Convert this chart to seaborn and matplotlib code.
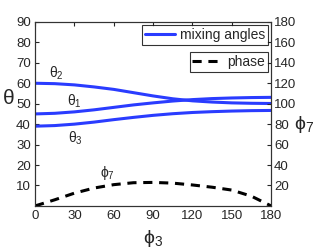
import numpy as np
import pandas as pd
import seaborn as sns
import matplotlib.pyplot as plt
from matplotlib.lines import Line2D

phi3 = [0, 15, 30, 45, 60, 75, 90, 105, 120, 135, 150, 165, 180]
theta1 = [45.0, 45.3, 46.0, 47.0, 48.2, 49.4, 50.4, 51.3, 52.0, 52.5, 52.8, 53.0, 53.1]
theta2 = [60.0, 59.8, 59.2, 58.2, 57.0, 55.4, 53.8, 52.4, 51.4, 50.8, 50.4, 50.2, 50.1]
theta3 = [39.0, 39.3, 40.0, 41.0, 42.2, 43.3, 44.3, 45.1, 45.7, 46.1, 46.4, 46.6, 46.7]
phi7 = [0, 6, 12.5, 17.5, 20.8, 22.7, 23, 22.3, 20.5, 18.3, 15.5, 9.5, 0]

df = pd.DataFrame({
    "phi3": phi3 * 3,
    "theta": theta1 + theta2 + theta3,
    "angle": ["t1"] * 13 + ["t2"] * 13 + ["t3"] * 13,
})
df_ph = pd.DataFrame({"phi3": phi3, "phi7": phi7})

sns.set_style("white")
plt.rcParams["font.family"] = ["Liberation Sans", "DejaVu Sans"]
plt.rcParams["mathtext.fontset"] = "custom"
plt.rcParams["mathtext.rm"] = "Liberation Sans"

fig = plt.figure(figsize=(3.16, 2.49), dpi=100)
ax = fig.add_axes([0.111, 0.173, 0.747, 0.739])
blue = "#2a3cff"
sns.lineplot(data=df, x="phi3", y="theta", units="angle", estimator=None,
             color=blue, lw=2.2, ax=ax, legend=False)
ax.set_xlim(0, 180)
ax.set_ylim(0, 90)
ax.set_xticks(range(0, 181, 30))
ax.set_yticks(range(10, 91, 10))
ax.tick_params(direction="in", length=3, labelsize=9.5, top=True, pad=3)
ax.set_xlabel(r"$\mathregular{\phi_3}$", fontsize=14, va="center", ha="center")
ax.xaxis.set_label_coords(0.5, -0.175)
ax.set_ylabel(r"$\mathregular{\theta}$", fontsize=15, rotation=0, va="center", ha="center")
ax.yaxis.set_label_coords(-0.112, 0.585)

ax2 = ax.twinx()
sns.lineplot(data=df_ph, x="phi3", y="phi7", color="black", lw=2.2,
             linestyle=(0, (3, 2.2)), ax=ax2)
ax2.set_ylim(0, 180)
ax2.set_yticks(range(20, 181, 20))
ax2.tick_params(direction="in", length=3, labelsize=9.5, pad=2)
ax2.set_ylabel(r"$\mathregular{\phi_7}$", fontsize=14, rotation=0, va="center", ha="center")
ax2.yaxis.set_label_coords(1.14, 0.44)

for a in (ax, ax2):
    for s in a.spines.values():
        s.set_color("#333333")
        s.set_linewidth(0.8)

ax.text(16, 65, r"$\mathregular{\theta_2}$", fontsize=10, ha="center", va="center")
ax.text(30, 51, r"$\mathregular{\theta_1}$", fontsize=10, ha="center", va="center")
ax.text(31, 33, r"$\mathregular{\theta_3}$", fontsize=10, ha="center", va="center")
ax.text(55, 16, r"$\mathregular{\phi_7}$", fontsize=10, ha="center", va="center")

leg1 = ax2.legend([Line2D([], [], color=blue, lw=2.2)], ["mixing angles"],
                  loc="upper right", bbox_to_anchor=(1.0, 1.0), fontsize=10,
                  frameon=True, fancybox=False, edgecolor="black",
                  handlelength=2.2, handletextpad=0.3, borderpad=0.2,
                  borderaxespad=0.25)
leg1.get_frame().set_linewidth(0.8)
ax2.add_artist(leg1)
leg2 = ax2.legend([Line2D([], [], color="black", lw=2.2, linestyle=(0, (3, 2.2)))],
                  ["phase"], loc="upper right", bbox_to_anchor=(1.0, 0.855),
                  fontsize=10, frameon=True, fancybox=False, edgecolor="black",
                  handlelength=2.2, handletextpad=0.3, borderpad=0.2,
                  borderaxespad=0.25)
leg2.get_frame().set_linewidth(0.8)

fig.savefig("out.png", dpi=100)
